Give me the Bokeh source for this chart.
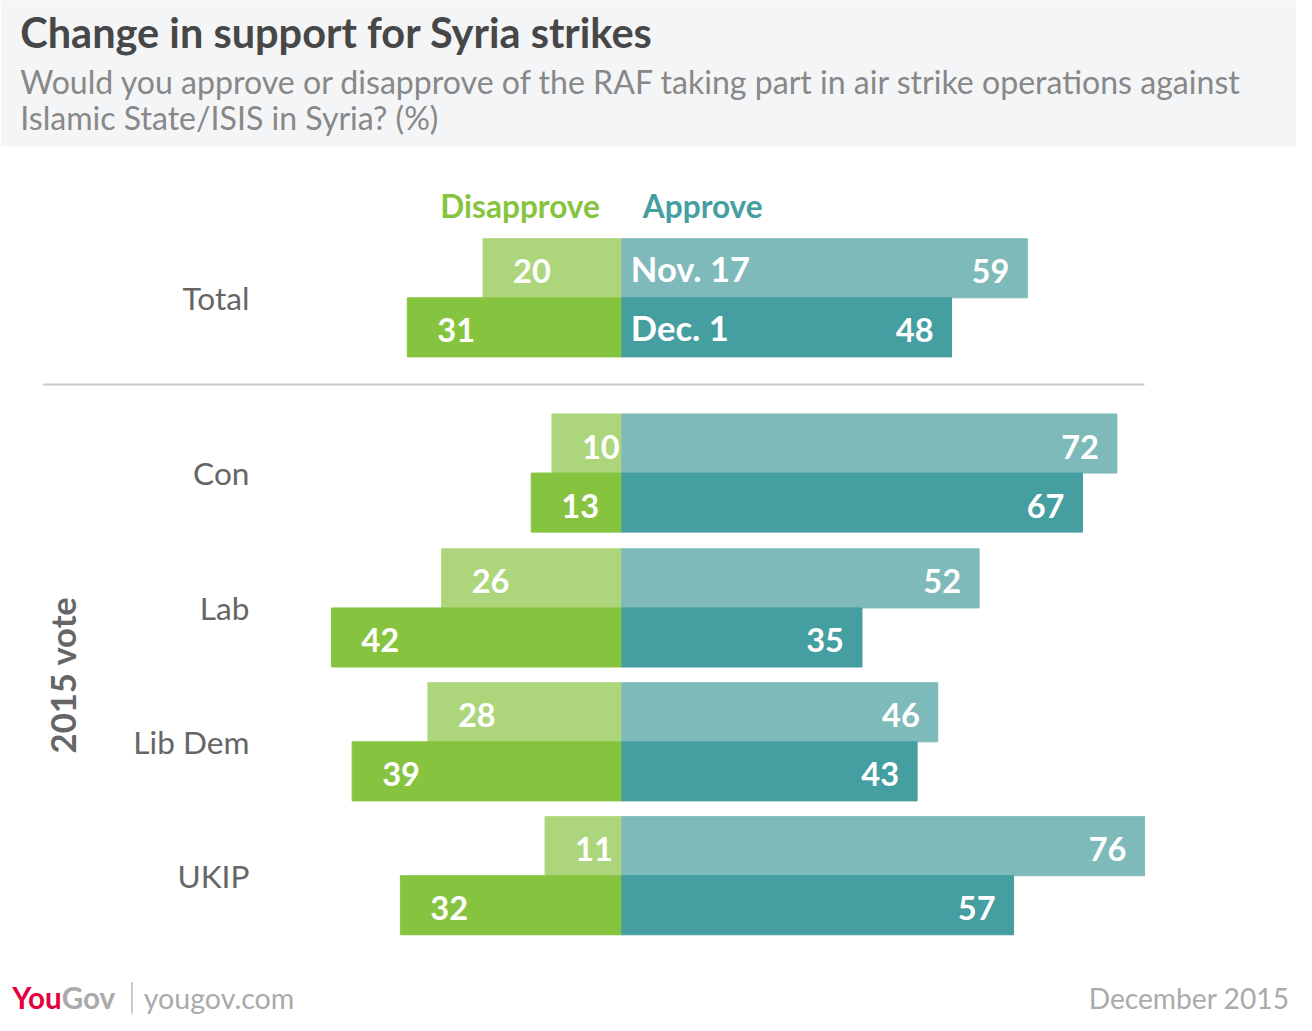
from bokeh.plotting import figure
from bokeh.models import Range1d, BoxAnnotation, ColumnDataSource
from bokeh.core.properties import value
from bokeh.embed import file_html
from bokeh.resources import INLINE

# ---- data ----
groups = ["Total", "Con", "Lab", "Lib Dem", "UKIP"]
nov_approve = [59, 72, 52, 46, 76]
dec_approve = [48, 67, 35, 43, 57]
nov_disapprove = [20, 10, 26, 28, 11]
dec_disapprove = [31, 13, 42, 39, 32]
row_labels = ["Nov. 17", "Dec. 1"]

# ---- layout (in reference-canvas pixels, scaled to the figure) ----
RW, RH = 1312, 1031
W, H = 1296, 1015
S = W / RW
PX = 6.975          # pixels per percentage point
ZERO = 628          # pixel position of zero line
group_top = [242, 420, 557, 693, 829]
BAR_H = 60
FONT = value("Lato")

LG, DG = "#add67c", "#86c440"
LT, DT = "#7fbaba", "#459ea0"

def px(x):
    return (x - ZERO) / PX

def fs(size):
    return f"{size * S:.1f}px"

p = figure(width=W, height=H, x_range=Range1d(px(0), px(RW)), y_range=Range1d(RH, 0),
           output_backend="svg", toolbar_location=None, min_border=0)
p.axis.visible = False
p.grid.visible = False
p.outline_line_color = None
p.background_fill_color = "white"
p.border_fill_color = "white"

p.add_layout(BoxAnnotation(top=-20, bottom=148, fill_color="#f4f5f7", fill_alpha=1,
                           line_color=None, level="underlay"))

nov_y = [t + BAR_H / 2 for t in group_top]
dec_y = [t + BAR_H * 1.5 for t in group_top]
mid_y = [t + BAR_H for t in group_top]

src = ColumnDataSource(dict(
    nov_y=nov_y, dec_y=dec_y, mid_y=mid_y, groups=groups,
    lab_x=[px(252)] * len(groups),
    na=nov_approve, da=dec_approve,
    nd=[-v for v in nov_disapprove], dd=[-v for v in dec_disapprove],
    na_t=[str(v) for v in nov_approve], da_t=[str(v) for v in dec_approve],
    nd_t=[str(v) for v in nov_disapprove], dd_t=[str(v) for v in dec_disapprove],
))

p.hbar(y="nov_y", left=0, right="na", height=BAR_H, color=LT, source=src)
p.hbar(y="dec_y", left=0, right="da", height=BAR_H, color=DT, source=src)
p.hbar(y="nov_y", left="nd", right=0, height=BAR_H, color=LG, source=src)
p.hbar(y="dec_y", left="dd", right=0, height=BAR_H, color=DG, source=src)

common = dict(text_color="white", text_font=FONT, text_font_style="bold",
              text_font_size=fs(33), text_baseline="middle", source=src)
p.text(x="na", y="nov_y", text="na_t", text_align="right", x_offset=-18, y_offset=3, **common)
p.text(x="da", y="dec_y", text="da_t", text_align="right", x_offset=-18, y_offset=3, **common)
p.text(x="nd", y="nov_y", text="nd_t", text_align="left", x_offset=30, y_offset=3, **common)
p.text(x="dd", y="dec_y", text="dd_t", text_align="left", x_offset=30, y_offset=3, **common)

# Nov./Dec. labels for the Total group
p.text(x=[0, 0], y=[nov_y[0], dec_y[0]], text=row_labels, text_color="white", text_font=FONT,
       text_font_style="bold", text_font_size=fs(35), text_baseline="middle",
       text_align="left", x_offset=10, y_offset=0)

# category labels
p.text(x="lab_x", y="mid_y", text="groups", source=src, text_color="#666666",
       text_font=FONT, text_font_size=fs(32), text_align="right", text_baseline="middle")

# legend
p.text(x=[0], y=[209], text=["Disapprove"], text_color=DG, text_font=FONT, text_font_style="bold",
       text_font_size=fs(32), text_align="right", text_baseline="middle", x_offset=-21)
p.text(x=[0], y=[209], text=["Approve"], text_color=DT, text_font=FONT, text_font_style="bold",
       text_font_size=fs(32), text_align="left", text_baseline="middle", x_offset=22)

# separator
p.segment(x0=[px(43)], x1=[px(1158)], y0=[390], y1=[390], line_color="#c8c8c8", line_width=2)

# vertical group label
p.text(x=[px(63)], y=[685], text=["2015 vote"], angle=1.5708, text_color="#666666", text_font=FONT,
       text_font_style="bold", text_font_size=fs(35), text_align="center", text_baseline="middle")

# title / subtitle
p.text(x=[px(20)], y=[32], text=["Change in support for Syria strikes"], text_color="#474747",
       text_font=FONT, text_font_style="bold", text_font_size=fs(42), text_baseline="middle")
p.text(x=[px(20), px(20)], y=[82, 119],
       text=["Would you approve or disapprove of the RAF taking part in air strike operations against",
             "Islamic State/ISIS in Syria? (%)"],
       text_color="#888888", text_font=FONT, text_font_size=fs(32.5), text_baseline="middle")

# footer
p.text(x=[px(62)], y=[1013], text=["You"], text_color="#e4003b", text_font=FONT,
       text_font_style="bold", text_font_size=fs(30), text_align="right", text_baseline="middle")
p.text(x=[px(62)], y=[1013], text=["Gov"], text_color="#aaaaaa", text_font=FONT,
       text_font_style="bold", text_font_size=fs(30), text_align="left", text_baseline="middle")
p.segment(x0=[px(133)], x1=[px(133)], y0=[997], y1=[1029], line_color="#bbbbbb", line_width=1.5)
p.text(x=[px(145)], y=[1013], text=["yougov.com"], text_color="#aaaaaa", text_font=FONT,
       text_font_size=fs(29), text_baseline="middle")
p.text(x=[px(1305)], y=[1013], text=["December 2015"], text_color="#aaaaaa", text_font=FONT,
       text_font_size=fs(28.5), text_align="right", text_baseline="middle")

open("out.html", "w").write(file_html(p, INLINE))
